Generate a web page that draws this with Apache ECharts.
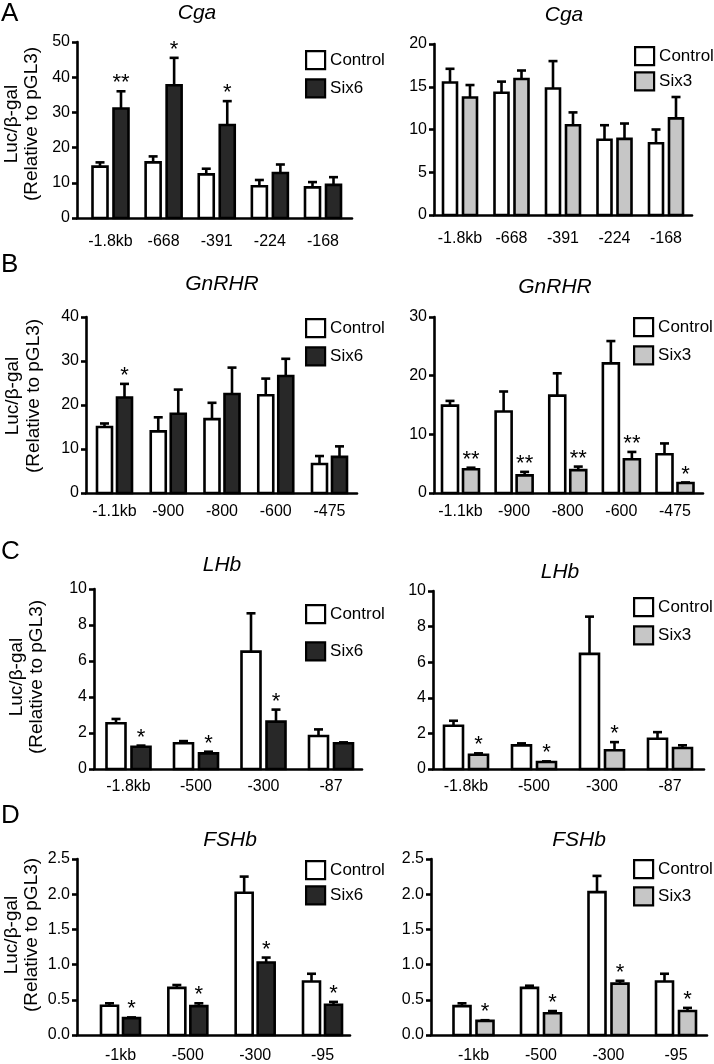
<!DOCTYPE html>
<html><head><meta charset="utf-8">
<script src="https://cdn.jsdelivr.net/npm/echarts@6/dist/echarts.min.js"></script>
<style>html,body{margin:0;padding:0;background:#fff}#c{width:714px;height:1064px}</style>
</head><body><div id="c"></div>
<script>
// ---------- DATA ----------
const catsCga = ['-1.8kb', '-668', '-391', '-224', '-168'];
const catsGnRHR = ['-1.1kb', '-900', '-800', '-600', '-475'];
const catsLHb = ['-1.8kb', '-500', '-300', '-87'];
const catsFSHb = ['-1kb', '-500', '-300', '-95'];

// A  Cga
const cgaCtrlL = [14.6, 15.8, 12.4, 9.0, 8.7];
const cgaCtrlLSem = [1.2, 1.7, 1.6, 1.8, 1.5];
const cgaSix6 = [31.1, 37.7, 26.4, 12.8, 9.4];
const cgaSix6Sem = [4.9, 7.8, 6.8, 2.4, 2.2];
const cgaSix6Stars = ['**', '*', '*', '', ''];
const cgaCtrlR = [15.5, 14.3, 14.8, 8.8, 8.4];
const cgaCtrlRSem = [1.6, 1.3, 3.2, 1.7, 1.6];
const cgaSix3 = [13.75, 15.9, 10.5, 8.9, 11.3];
const cgaSix3Sem = [1.45, 1.0, 1.5, 1.8, 2.5];
const cgaSix3Stars = ['', '', '', '', ''];

// B  GnRHR
const gnCtrlL = [15.0, 14.0, 16.8, 22.2, 6.6];
const gnCtrlLSem = [0.8, 3.2, 3.7, 3.8, 1.8];
const gnSix6 = [21.7, 18.0, 22.5, 26.6, 8.2];
const gnSix6Sem = [3.1, 5.5, 6.0, 3.9, 2.4];
const gnSix6Stars = ['*', '', '', '', ''];
const gnCtrlR = [14.9, 13.9, 16.6, 22.1, 6.6];
const gnCtrlRSem = [0.8, 3.4, 3.8, 3.8, 1.85];
const gnSix3 = [4.06, 3.0, 3.9, 5.75, 1.7];
const gnSix3Sem = [0.25, 0.6, 0.6, 1.25, 0.1];
const gnSix3Stars = ['**', '**', '**', '**', '*'];

// C  LHb
const lhCtrlL = [2.54, 1.43, 6.52, 1.83];
const lhCtrlLSem = [0.24, 0.12, 2.13, 0.37];
const lhSix6 = [1.24, 0.87, 2.63, 1.43];
const lhSix6Sem = [0.06, 0.09, 0.67, 0.05];
const lhSix6Stars = ['*', '*', '*', ''];
const lhCtrlR = [2.43, 1.33, 6.47, 1.7];
const lhCtrlRSem = [0.28, 0.11, 2.09, 0.37];
const lhSix3 = [0.8, 0.39, 1.05, 1.18];
const lhSix3Sem = [0.08, 0.04, 0.46, 0.15];
const lhSix3Stars = ['*', '*', '*', ''];

// D  FSHb
const fsCtrlL = [0.416, 0.67, 2.02, 0.76];
const fsCtrlLSem = [0.034, 0.04, 0.23, 0.11];
const fsSix6 = [0.24, 0.41, 1.03, 0.43];
const fsSix6Sem = [0.01, 0.04, 0.07, 0.04];
const fsSix6Stars = ['*', '*', '*', '*'];
const fsCtrlR = [0.41, 0.67, 2.03, 0.76];
const fsCtrlRSem = [0.04, 0.03, 0.23, 0.11];
const fsSix3 = [0.20, 0.31, 0.73, 0.34];
const fsSix3Sem = [0.01, 0.03, 0.04, 0.045];
const fsSix3Stars = ['*', '*', '*', '*'];

// ---------- STYLE / LAYOUT ----------
const FONT = '"Liberation Sans", Arial, Helvetica, sans-serif';
const BLACK_FILL = '#282828';
const GRAY_FILL = '#c6c6c6';
const TICK_FS = 16;

const panels = [
  {cats: catsCga, title: 'Cga', treat: 'Six6', fill: BLACK_FILL, ctrl: cgaCtrlL, ctrlSem: cgaCtrlLSem, trt: cgaSix6, trtSem: cgaSix6Sem, stars: cgaSix6Stars, yMax: 50, yInt: 10, dec: 0,
   L: 77, R: 352, T: 42, B: 218, c0: 110.5, cN: 323, bw: 15, gap: 6, lm: 16, lgX: 305, lgY: 50, lgGap: 8, tX: 197, tY: 13, yName: true, nameY: 124, n1: 12, n2: 32, letter: 'A', letY: 14},
  {cats: catsCga, title: 'Cga', treat: 'Six3', fill: GRAY_FILL, ctrl: cgaCtrlR, ctrlSem: cgaCtrlRSem, trt: cgaSix3, trtSem: cgaSix3Sem, stars: cgaSix3Stars, yMax: 20, yInt: 5, dec: 0,
   L: 434, R: 692, T: 44, B: 215, c0: 460, cN: 666, bw: 14, gap: 6, lm: 16, lgX: 634, lgY: 46, lgGap: 5, tX: 564, tY: 15},
  {cats: catsGnRHR, title: 'GnRHR', treat: 'Six6', fill: BLACK_FILL, ctrl: gnCtrlL, ctrlSem: gnCtrlLSem, trt: gnSix6, trtSem: gnSix6Sem, stars: gnSix6Stars, yMax: 40, yInt: 10, dec: 0,
   L: 86, R: 357, T: 317, B: 493, c0: 114.5, cN: 329.5, bw: 15, gap: 5, lm: 11, lgX: 305, lgY: 318, lgGap: 8, tX: 222, tY: 284, yName: true, nameY: 396, n1: 13, n2: 34, letter: 'B', letY: 265},
  {cats: catsGnRHR, title: 'GnRHR', treat: 'Six3', fill: GRAY_FILL, ctrl: gnCtrlR, ctrlSem: gnCtrlRSem, trt: gnSix3, trtSem: gnSix3Sem, stars: gnSix3Stars, yMax: 30, yInt: 10, dec: 0,
   L: 434, R: 703, T: 317, B: 493, c0: 460.5, cN: 675, bw: 16, gap: 5, lm: 11, lgX: 633, lgY: 317, lgGap: 8, tX: 555, tY: 287},
  {cats: catsLHb, title: 'LHb', treat: 'Six6', fill: BLACK_FILL, ctrl: lhCtrlL, ctrlSem: lhCtrlLSem, trt: lhSix6, trtSem: lhSix6Sem, stars: lhSix6Stars, yMax: 10, yInt: 2, dec: 0,
   L: 94, R: 362, T: 589, B: 769, c0: 128.5, cN: 331, bw: 19, gap: 6, lm: 10, lgX: 305, lgY: 604, lgGap: 17, tX: 222, tY: 565, yName: true, nameY: 677, n1: 17, n2: 37, letter: 'C', letY: 552},
  {cats: catsLHb, title: 'LHb', treat: 'Six3', fill: GRAY_FILL, ctrl: lhCtrlR, ctrlSem: lhCtrlRSem, trt: lhSix3, trtSem: lhSix3Sem, stars: lhSix3Stars, yMax: 10, yInt: 2, dec: 0,
   L: 433, R: 704, T: 591, B: 769, c0: 466, cN: 670, bw: 19, gap: 6, lm: 10, lgX: 633, lgY: 597, lgGap: 8, tX: 560, tY: 572},
  {cats: catsFSHb, title: 'FSHb', treat: 'Six6', fill: BLACK_FILL, ctrl: fsCtrlL, ctrlSem: fsCtrlLSem, trt: fsSix6, trtSem: fsSix6Sem, stars: fsSix6Stars, yMax: 2.5, yInt: 0.5, dec: 1,
   L: 77, R: 350, T: 859, B: 1038, c0: 120.5, cN: 322.5, bw: 17, gap: 5, lm: 13, lgX: 305, lgY: 860, lgGap: 5, tX: 230, tY: 840, yName: true, nameY: 935, n1: 12, n2: 32, letter: 'D', letY: 816},
  {cats: catsFSHb, title: 'FSHb', treat: 'Six3', fill: GRAY_FILL, ctrl: fsCtrlR, ctrlSem: fsCtrlRSem, trt: fsSix3, trtSem: fsSix3Sem, stars: fsSix3Stars, yMax: 2.5, yInt: 0.5, dec: 1,
   L: 431, R: 707, T: 859, B: 1037, c0: 473.5, cN: 676, bw: 17, gap: 6, lm: 13, lgX: 633, lgY: 859, lgGap: 7, tX: 579, tY: 840}
];

const grids = [], xAxes = [], yAxes = [], series = [], legends = [], graphics = [];

function makeRender(P, k) {
  const off = (k === 0 ? -1 : 1) * (P.bw / 2 + P.gap / 2);
  const fill = k === 0 ? '#ffffff' : P.fill;
  const stars = k === 1 ? P.stars : null;
  return function (params, api) {
    const i = api.value(0), v = api.value(1), e = api.value(2);
    const top = api.coord([i, v]);
    const base = api.coord([i, 0]);
    const et = api.coord([i, v + e]);
    const cx = top[0] + off;
    const children = [
      {type: 'line', shape: {x1: cx, y1: top[1], x2: cx, y2: et[1]}, style: {stroke: '#000', lineWidth: 2.6}},
      {type: 'line', shape: {x1: cx - 4.5, y1: et[1], x2: cx + 4.5, y2: et[1]}, style: {stroke: '#000', lineWidth: 2.6}},
      {type: 'rect', shape: {x: cx - P.bw / 2, y: top[1], width: P.bw, height: base[1] - top[1]}, style: {fill: fill, stroke: '#000', lineWidth: 2.6}}
    ];
    if (stars && stars[params.dataIndex]) {
      children.push({type: 'text', style: {text: stars[params.dataIndex], x: cx, y: et[1] - 19, align: 'center', verticalAlign: 'top', font: '22px ' + FONT, fill: '#000'}});
    }
    return {type: 'group', children: children};
  };
}

panels.forEach((P, gi) => {
  const n = P.cats.length;
  const s = (P.cN - P.c0) / (n - 1);
  const xmin = -(P.c0 - P.L) / s;
  const xmax = (n - 1) + (P.R - P.cN) / s;
  grids.push({left: P.L, top: P.T, width: P.R - P.L, height: P.B - P.T, containLabel: false});
  xAxes.push({
    gridIndex: gi, type: 'value', min: xmin, max: xmax,
    axisLine: {show: true, onZero: false, lineStyle: {color: '#000', width: 2.6}},
    axisTick: {show: false}, splitLine: {show: false},
    axisLabel: {customValues: P.cats.map((c, i) => i), formatter: v => P.cats[Math.round(v)], color: '#000', fontSize: TICK_FS, fontFamily: FONT, margin: P.lm}
  });
  yAxes.push({
    gridIndex: gi, type: 'value', min: 0, max: P.yMax, interval: P.yInt,
    axisLine: {show: true, onZero: false, lineStyle: {color: '#000', width: 2.6}},
    axisTick: {show: true, length: 5, lineStyle: {color: '#000', width: 2.6}},
    splitLine: {show: false},
    axisLabel: {color: '#000', fontSize: TICK_FS, fontFamily: FONT, margin: 7, formatter: v => v.toFixed(P.dec)}
  });
  [['Control', P.ctrl, P.ctrlSem], [P.treat, P.trt, P.trtSem]].forEach((g, k) => {
    series.push({
      type: 'custom', name: g[0], xAxisIndex: gi, yAxisIndex: gi,
      itemStyle: {color: k === 0 ? '#ffffff' : P.fill, borderColor: '#000', borderWidth: 2},
      renderItem: makeRender(P, k),
      encode: {x: 0, y: 1},
      data: g[1].map((m, i) => [i, m, g[2][i]]),
      silent: true, animation: false
    });
  });
  legends.push({
    left: P.lgX, top: P.lgY, orient: 'vertical', padding: 0, itemWidth: 19, itemHeight: 18, itemGap: P.lgGap,
    icon: 'rect', selectedMode: false,
    textStyle: {fontSize: 17, color: '#000', fontFamily: FONT},
    data: [
      {name: 'Control', itemStyle: {color: '#ffffff', borderColor: '#000', borderWidth: 2.2}},
      {name: P.treat, itemStyle: {color: P.fill, borderColor: '#000', borderWidth: 2.2}}
    ]
  });
  graphics.push({type: 'text', x: P.tX, y: P.tY, style: {text: P.title, font: 'italic 21px ' + FONT, fill: '#000', align: 'center', verticalAlign: 'middle'}});
  if (P.yName) {
    graphics.push({type: 'text', x: P.n1, y: P.nameY, rotation: Math.PI / 2, style: {text: 'Luc/β-gal', font: '19px ' + FONT, fill: '#000', align: 'center', verticalAlign: 'middle'}});
    graphics.push({type: 'text', x: P.n2, y: P.nameY, rotation: Math.PI / 2, style: {text: '(Relative to pGL3)', font: '19px ' + FONT, fill: '#000', align: 'center', verticalAlign: 'middle'}});
    graphics.push({type: 'text', x: 1, y: P.letY, style: {text: P.letter, font: '26px ' + FONT, fill: '#000', align: 'left', verticalAlign: 'middle'}});
  }
});

const chart = echarts.init(document.getElementById('c'), null, {renderer: 'canvas'});
chart.setOption({
  backgroundColor: '#ffffff',
  animation: false,
  grid: grids, xAxis: xAxes, yAxis: yAxes, series: series, legend: legends,
  graphic: {elements: graphics}
});
</script></body></html>
